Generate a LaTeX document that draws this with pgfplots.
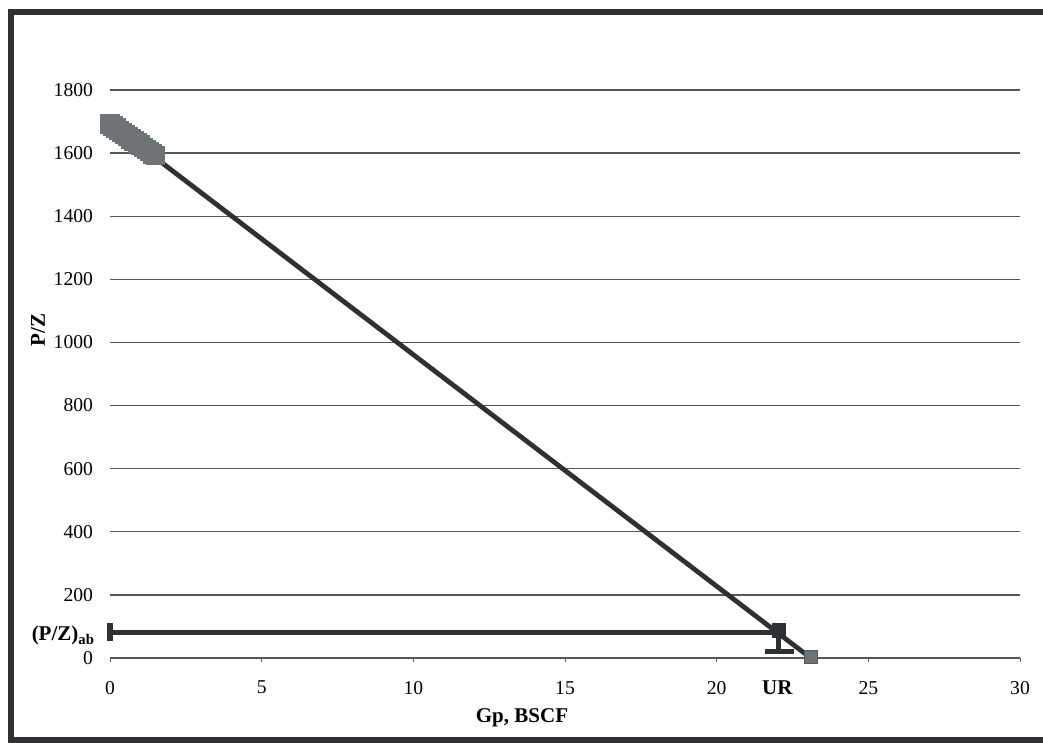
\documentclass[border=0pt]{standalone}
\usepackage{pgfplots}
\pgfplotsset{compat=1.18}
\usepackage{fontspec}
\setmainfont{Liberation Serif}
\definecolor{ln}{HTML}{2E3133}
\definecolor{grd}{HTML}{55585A}
\definecolor{mk}{HTML}{6E7377}
\begin{document}
\begin{tikzpicture}[x=1pt,y=1pt]
\path[use as bounding box] (0,0) rectangle (521.5,371.5);
% outer frame
\draw[line width=2.6pt,ln] (521.5,365.5) -- (5.5,365.5) -- (5.5,1.5) -- (521.5,1.5);
\begin{axis}[
  at={(55pt,42.5pt)}, anchor=origin,
  scale only axis, width=455pt, height=284pt,
  xmin=0, xmax=30, ymin=0, ymax=1800,
  axis line style={draw=none},
  xtick={0,5,...,30}, ytick={0,200,...,1800},
  ymajorgrids, grid style={grd, line width=0.65pt},
  major tick length=2pt, tick style={grd, line width=0.5pt},
  xtick pos=bottom, ytick style={draw=none},
  tick align=outside,
  /pgf/number format/assume math mode=true,
  /pgf/number format/1000 sep={},
  ticklabel style={font=\fontsize{9.8}{11}\selectfont},
  xticklabel style={yshift=-6pt},
  yticklabel style={xshift=-3pt},
  clip=false,
]
% data points (initial pressure survey)
\addplot[mk, line width=5pt, mark=square*, mark size=2.4pt, mark options={fill=mk, draw=mk}]
  coordinates {(0,1692) (0.1,1686) (0.2,1679) (0.3,1672) (0.4,1665) (0.5,1659) (0.6,1652) (0.7,1645) (0.8,1638) (0.9,1632) (1.0,1625) (1.1,1618) (1.2,1611) (1.3,1605) (1.4,1598) (1.5,1592)};
% P/Z trend line
\addplot[ln, line width=2.4pt] coordinates {(0,1695) (23.1,0)};
% abandonment P/Z line
\addplot[ln, line width=2.6pt] coordinates {(0,80) (22.05,80)};
\addplot[ln, line width=2.6pt] coordinates {(0,55) (0,110)};
% UR vertical
\addplot[ln, line width=2.6pt] coordinates {(22.05,80) (22.05,20)};
\addplot[ln, line width=2.6pt] coordinates {(21.6,20) (22.55,20)};
% UR point
\addplot[only marks, mark=square*, mark size=3.4pt, mark options={fill=ln, draw=ln}] coordinates {(22.05,88)};
% end point
\addplot[only marks, mark=square*, mark size=3.3pt, mark options={fill=mk, draw=mk!80!black}] coordinates {(23.1,4)};
% labels
\node[font=\fontsize{10.5}{12}\selectfont\bfseries] at (axis cs:22.0,0) [yshift=-15pt] {UR};
\node[font=\fontsize{10.5}{12}\selectfont\bfseries, anchor=east] at (axis cs:0,70) [xshift=-4pt] {(P/Z)$_{\mathbf{ab}}$};
\end{axis}
\node[font=\fontsize{10.5}{12}\selectfont\bfseries, rotate=90] at (19,206.5) {P/Z};
\node[font=\fontsize{10.5}{12}\selectfont\bfseries] at (261,12.5) {Gp, BSCF};
\end{tikzpicture}
\end{document}
